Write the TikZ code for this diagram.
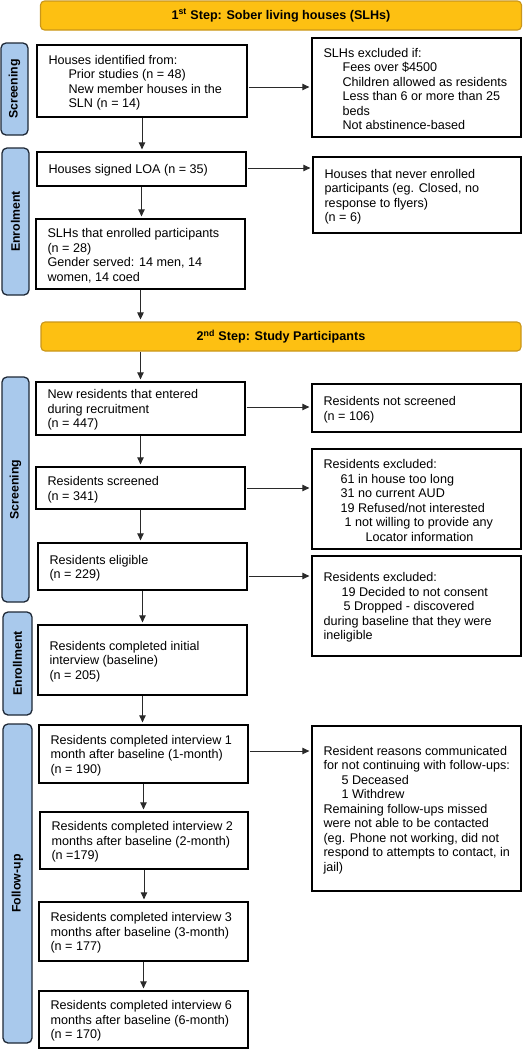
\documentclass[tikz,border=0pt]{standalone}
\usepackage{fontspec}
\setmainfont{Liberation Sans}
\usetikzlibrary{arrows.meta,calc}
\definecolor{bannerfill}{HTML}{FDC012}
\definecolor{bannerdraw}{HTML}{C9961A}
\definecolor{barfill}{HTML}{A9C9EC}
\definecolor{bardraw}{HTML}{1E2836}
\definecolor{arrcol}{HTML}{2A2A2A}
\newcommand\bodyfont{\fontsize{12.6}{14.5}\selectfont}
\begin{document}
\begin{tikzpicture}[x=1pt,y=-1pt,
  box/.style={draw=black, line width=1.3pt, fill=white, inner sep=0pt},
  txt/.style={anchor=west, align=left, inner sep=0pt, yshift=-1.5pt, font=\bodyfont},
  banner/.style={draw=bannerdraw, line width=1.1pt, fill=bannerfill, rounded corners=4pt, minimum width=481pt, minimum height=29pt, inner sep=0pt, font=\bfseries\fontsize{12.6}{14.5}\selectfont},
  bar/.style={draw=bardraw, line width=1.3pt, fill=barfill, rounded corners=5pt, rotate=90, inner sep=0pt, font=\bfseries\fontsize{12.3}{14}\selectfont},
  arr/.style={draw=arrcol, line width=0.9pt, -{Triangle[length=7pt,width=6.5pt]}},
  varr/.style={arr, shorten >=2pt, shorten <=0.5pt},
  harr/.style={arr, shorten >=2pt, shorten <=1pt}
]
\useasboundingbox (0,0) rectangle (526,1050);

% banners
\node[banner] (ban1) at (281,15.5) {1\textsuperscript{st} Step: Sober living houses (SLHs)};
\node[banner, minimum width=480pt] (ban2) at (281,336.5) {2\textsuperscript{nd} Step: Study Participants};

% side bars
\node[bar, minimum width=92pt, minimum height=27pt] (bar1) at (14.5,89) {Screening};
\node[bar, minimum width=147pt, minimum height=27pt] (bar2) at (15.5,221.5) {Enrolment};
\node[bar, minimum width=225pt, minimum height=27pt] (bar3) at (15.5,489.5) {Screening};
\node[bar, minimum width=103pt, minimum height=29pt] (bar4) at (17.5,663.5) {Enrollment};
\node[bar, minimum width=319pt, minimum height=29pt] (bar5) at (17.5,883.5) {Follow-up};

% left boxes
\node[box, minimum width=210pt, minimum height=72pt] (b1) at (142,81) {};
\node[box, minimum width=209pt, minimum height=34pt] (b2) at (141.5,169) {};
\node[box, minimum width=209pt, minimum height=70pt] (b3) at (140.5,254) {};
\node[box, minimum width=209pt, minimum height=53pt] (b4) at (140.5,408.5) {};
\node[box, minimum width=209pt, minimum height=42pt] (b5) at (140.5,488) {};
\node[box, minimum width=209pt, minimum height=47pt] (b6) at (142.5,566.5) {};
\node[box, minimum width=209pt, minimum height=70pt] (b7) at (142.5,660) {};
\node[box, minimum width=209pt, minimum height=58pt] (b8) at (143.5,754) {};
\node[box, minimum width=208pt, minimum height=57pt] (b9) at (144,840.5) {};
\node[box, minimum width=209pt, minimum height=59pt] (b10) at (143.5,931.5) {};
\node[box, minimum width=209pt, minimum height=57pt] (b11) at (143.5,1019.5) {};

% right boxes
\node[box, minimum width=209pt, minimum height=99pt] (r1) at (416.5,87.5) {};
\node[box, minimum width=208pt, minimum height=76pt] (r2) at (417,195) {};
\node[box, minimum width=209pt, minimum height=48pt] (r3) at (416.5,408) {};
\node[box, minimum width=209pt, minimum height=100pt] (r4) at (416.5,499) {};
\node[box, minimum width=209pt, minimum height=100pt] (r5) at (416.5,606) {};
\node[box, minimum width=209pt, minimum height=165pt] (r6) at (416.5,808.5) {};

% texts
\node[txt] at ([xshift=12pt]b1.west) {Houses identified from:\\\hspace*{20pt}Prior studies (n = 48)\\\hspace*{20pt}New member houses in the\\\hspace*{20pt}SLN (n = 14)};
\node[txt] at ([xshift=12pt]b2.west) {Houses signed LOA (n = 35)};
\node[txt] at ([xshift=12pt]b3.west) {SLHs that enrolled participants\\(n = 28)\\Gender served: 14 men, 14\\women, 14 coed};
\node[txt] at ([xshift=12pt]b4.west) {New residents that entered\\during recruitment\\(n = 447)};
\node[txt] at ([xshift=12pt]b5.west) {Residents screened\\(n = 341)};
\node[txt] at ([xshift=12pt]b6.west) {Residents eligible\\(n = 229)};
\node[txt] at ([xshift=12pt]b7.west) {Residents completed initial\\interview (baseline)\\(n = 205)};
\node[txt] at ([xshift=12pt]b8.west) {Residents completed interview 1\\month after baseline (1-month)\\(n = 190)};
\node[txt] at ([xshift=12pt]b9.west) {Residents completed interview 2\\months after baseline (2-month)\\(n =179)};
\node[txt] at ([xshift=12pt]b10.west) {Residents completed interview 3\\months after baseline (3-month)\\(n = 177)};
\node[txt] at ([xshift=12pt]b11.west) {Residents completed interview 6\\months after baseline (6-month)\\(n = 170)};

\node[txt] at ([xshift=12pt]r1.west) {SLHs excluded if:\\\hspace*{19pt}Fees over \$4500\\\hspace*{19pt}Children allowed as residents\\\hspace*{19pt}Less than 6 or more than 25\\\hspace*{19pt}beds\\\hspace*{19pt}Not abstinence-based};
\node[txt] at ([xshift=12pt]r2.west) {Houses that never enrolled\\participants (eg. Closed, no\\response to flyers)\\(n = 6)};
\node[txt] at ([xshift=12pt]r3.west) {Residents not screened\\(n = 106)};
\node[txt] at ([xshift=12pt]r4.west) {Residents excluded:\\\hspace*{17pt}61 in house too long\\\hspace*{17pt}31 no current AUD\\\hspace*{17pt}19 Refused/not interested\\\hspace*{21pt}1 not willing to provide any\\\hspace*{42pt}Locator information};
\node[txt] at ([xshift=12pt]r5.west) {Residents excluded:\\\hspace*{18pt}19 Decided to not consent\\\hspace*{20pt}5 Dropped - discovered\\during baseline that they were\\ineligible};
\node[txt] at ([xshift=12pt]r6.west) {Resident reasons communicated\\for not continuing with follow-ups:\\\hspace*{18pt}5 Deceased\\\hspace*{18pt}1 Withdrew\\Remaining follow-ups missed\\were not able to be contacted\\(eg. Phone not working, did not\\respond to attempts to contact, in\\jail)};

% vertical arrows
\draw[varr] (b1.south) -- (b1.south |- b2.north);
\draw[varr] (b2.south) -- (b2.south |- b3.north);
\draw[varr] (b3.south) -- (b3.south |- ban2.north);
\draw[varr] (b4.north |- ban2.south) -- (b4.north);
\draw[varr] (b4.south) -- (b4.south |- b5.north);
\draw[varr] (b5.south) -- (b5.south |- b6.north);
\draw[varr] (b6.south) -- (b6.south |- b7.north);
\draw[varr] (b7.south) -- (b7.south |- b8.north);
\draw[varr] (b8.south) -- (b8.south |- b9.north);
\draw[varr] (b9.south) -- (b9.south |- b10.north);
\draw[varr] (b10.south) -- (b10.south |- b11.north);

% horizontal arrows
\draw[harr] ($(b1.east)+(0,6)$) coordinate (h1) -- (r1.west |- h1);
\draw[harr] ($(b2.east)+(0,-1)$) coordinate (h2) -- (r2.west |- h2);
\draw[harr] ($(b4.east)+(0,-1.5)$) coordinate (h3) -- (r3.west |- h3);
\draw[harr] ($(b5.east)+(0,0)$) coordinate (h4) -- (r4.west |- h4);
\draw[harr] ($(b6.east)+(0,9.5)$) coordinate (h5) -- (r5.west |- h5);
\draw[harr] ($(b8.east)+(0,-3)$) coordinate (h6) -- (r6.west |- h6);
\end{tikzpicture}
\end{document}
